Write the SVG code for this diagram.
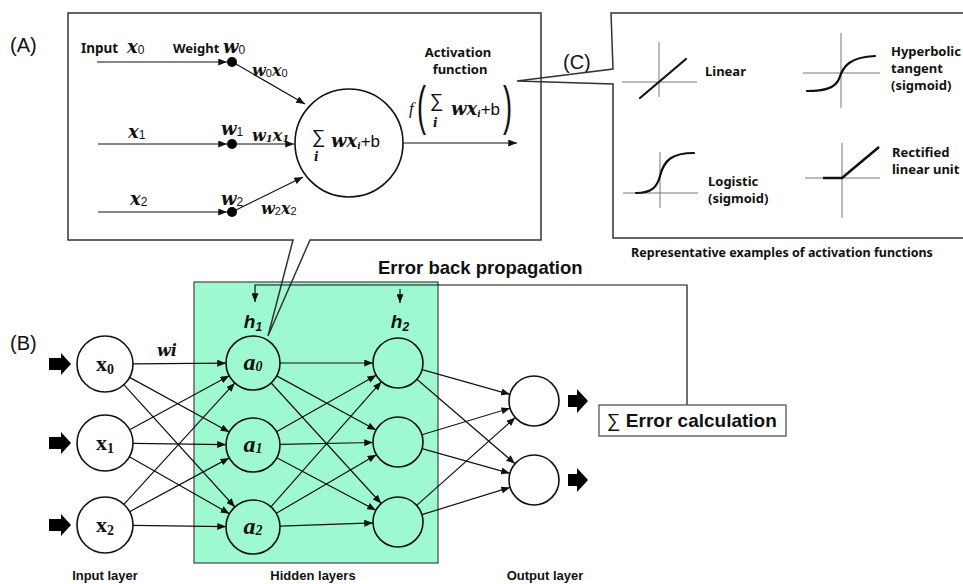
<svg xmlns="http://www.w3.org/2000/svg" width="963" height="584" viewBox="0 0 963 584">
  <style>
    .lbl { font-family: 'Liberation Sans', Arial, sans-serif; font-size: 20px; fill: #111; }
    .kb { font-family: 'Noto Sans', 'Liberation Sans', sans-serif; font-weight: bold; font-size: 13px; fill: #111; }
    .ab { font-family: 'Liberation Sans', Arial, sans-serif; font-weight: bold; fill: #111; }
    .sd { font-family: 'Liberation Sans', Arial, sans-serif; font-weight: normal; font-style: normal; }
    .m { font-family: 'Liberation Serif', serif; font-weight: bold; font-style: italic; font-size: 18px; fill: #111; }
    .v { font-family: 'DejaVu Serif', 'Liberation Serif', serif; font-weight: bold; font-style: italic; font-size: 18px; fill: #111; }
    .arr { stroke: #111; stroke-width: 1.2; fill: none; marker-end: url(#ah); }
    .box { stroke: #333; stroke-width: 1.5; fill: none; }
    .ax { stroke: #777; stroke-width: 1; fill: none; }
    .fn { stroke: #111; stroke-width: 2.2; fill: none; stroke-linecap: round; }
    .node { stroke: #111; stroke-width: 1.6; fill: #fff; }
    .hnode { stroke: #111; stroke-width: 1.6; fill: #9ef9d0; }
    .blk { fill: #000; }
  </style>
  <defs>
    <marker id="ah" viewBox="0 0 10 8" refX="10" refY="4" markerWidth="9" markerHeight="7" markerUnits="userSpaceOnUse" orient="auto">
      <path d="M0,0 L10,4 L0,8 Z" fill="#111"/>
    </marker>
  </defs>

  <rect width="963" height="584" fill="#fff"/>

  <!-- hidden layer panel -->
  <rect id="hidden-panel" x="194" y="282" width="244" height="281" fill="#9ef9d0" stroke="#444" stroke-width="1.2"/>

  <!-- panel labels -->
  <text class="lbl" x="10" y="52">(A)</text>
  <text class="lbl" x="10" y="350">(B)</text>
  <text class="lbl" x="563" y="69">(C)</text>

  <!-- (A) single neuron -->
  <g id="neuron-detail">
    <path class="box" d="M293,240 H68 V13 H541 V240 H310 L268,336 Z"/>
    <text class="kb" x="81" y="53" style="font-size:13.5px">Input</text>
    <text class="v" x="127" y="53">x<tspan class="sd" font-size="12" dy="1">0</tspan></text>
    <text class="kb" x="173" y="53">Weight</text>
    <text class="v" x="223" y="53">w<tspan class="sd" font-size="12" dy="1">0</tspan></text>

    <text class="v" x="128" y="138">x<tspan class="sd" font-size="12" dy="1">1</tspan></text>
    <text class="v" x="221" y="135">w<tspan class="sd" font-size="12" dy="1">1</tspan></text>
    <text class="v" x="130" y="205">x<tspan class="sd" font-size="12" dy="1">2</tspan></text>
    <text class="v" x="221" y="205">w<tspan class="sd" font-size="12" dy="1">2</tspan></text>

    <text class="v" x="252" y="76" style="font-size:16px">w<tspan class="sd" font-size="11" dy="1">0</tspan><tspan dy="-1">x</tspan><tspan class="sd" font-size="11" dy="1">0</tspan></text>
    <text class="v" x="252" y="141" style="font-size:16px">w<tspan font-size="10" dy="1">1</tspan><tspan dy="-1">x</tspan><tspan font-size="10" dy="1">1</tspan></text>
    <text class="v" x="261" y="214" style="font-size:16px">w<tspan class="sd" font-size="11" dy="1">2</tspan><tspan dy="-1">x</tspan><tspan class="sd" font-size="11" dy="1">2</tspan></text>

    <!-- input lines to weight dots -->
    <line class="arr" x1="97" y1="62" x2="227" y2="62"/>
    <line class="arr" x1="98" y1="144" x2="227" y2="144"/>
    <line class="arr" x1="98" y1="212" x2="227" y2="212"/>
    <circle cx="232" cy="62" r="5" fill="#000"/>
    <circle cx="232" cy="144" r="5" fill="#000"/>
    <circle cx="232" cy="212" r="5" fill="#000"/>
    <!-- weighted inputs into the summing unit -->
    <line class="arr" x1="236" y1="64" x2="305" y2="104"/>
    <line class="arr" x1="237" y1="144" x2="294" y2="144"/>
    <line class="arr" x1="236" y1="210" x2="303" y2="177"/>

    <circle cx="349" cy="143" r="54" fill="#fff" stroke="#111" stroke-width="1.6"/>
    <text class="sd" x="312" y="143" font-size="19" fill="#111">∑</text>
    <text class="v" x="314" y="161" style="font-size:12px">i</text>
    <text class="v" x="331" y="147">w<tspan>x</tspan><tspan font-size="9" dy="2">i</tspan><tspan class="sd" font-size="17" dy="-2">+b</tspan></text>

    <line class="arr" x1="403" y1="143" x2="517" y2="143"/>

    <text class="kb" x="458" y="57" text-anchor="middle">Activation</text>
    <text class="kb" x="460" y="74" text-anchor="middle">function</text>

    <text class="m" x="409" y="114" style="font-weight:normal;font-size:17px">f</text>
    <text class="sd" transform="translate(417,124) scale(0.85,1.7)" font-size="32" fill="#111">(</text>
    <text class="sd" x="430" y="107" font-size="19" fill="#111">∑</text>
    <text class="v" x="433" y="127" style="font-size:12px">i</text>
    <text class="v" x="451" y="115">w<tspan>x</tspan><tspan font-size="9" dy="2">i</tspan><tspan class="sd" font-size="17" dy="-2">+b</tspan></text>
    <text class="sd" transform="translate(503,124) scale(0.85,1.7)" font-size="32" fill="#111">)</text>
  </g>

  <!-- (C) activation functions -->
  <g id="activation-examples">
    <path class="box" d="M963,13 H611 L613,69 L517,81 L613,84 V238 H963"/>

    <g id="fn-linear">
      <line class="ax" x1="659" y1="42" x2="659" y2="97"/>
      <line class="ax" x1="622" y1="82" x2="697" y2="82"/>
      <line class="fn" x1="640" y1="98" x2="686" y2="59"/>
      <text class="kb" x="705" y="76">Linear</text>
    </g>

    <g id="fn-tanh">
      <line class="ax" x1="841" y1="33" x2="841" y2="108"/>
      <line class="ax" x1="803" y1="73" x2="880" y2="73"/>
      <path class="fn" d="M807,91 C825,91 835,88 839,79 C843,66 850,57 875,56"/>
      <text class="kb" x="891" y="56">Hyperbolic</text>
      <text class="kb" x="891" y="73">tangent</text>
      <text class="kb" x="891" y="90">(sigmoid)</text>
    </g>

    <g id="fn-logistic">
      <line class="ax" x1="660" y1="152" x2="660" y2="208"/>
      <line class="ax" x1="623" y1="193" x2="698" y2="193"/>
      <path class="fn" d="M636,193 C652,193 657,187 660,176 C664,160 672,153 694,153"/>
      <text class="kb" x="708" y="186">Logistic</text>
      <text class="kb" x="708" y="203">(sigmoid)</text>
    </g>

    <g id="fn-relu">
      <line class="ax" x1="842" y1="143" x2="842" y2="218"/>
      <line class="ax" x1="805" y1="178" x2="880" y2="178"/>
      <path class="fn" d="M823,178 H842 L879,147" style="stroke-width:2.6;stroke-linecap:butt"/>
      <text class="kb" x="892" y="157">Rectified</text>
      <text class="kb" x="892" y="174">linear unit</text>
    </g>

    <text class="kb" x="782" y="257" text-anchor="middle" style="font-size:12.5px">Representative examples of activation functions</text>
  </g>

  <!-- (B) network connectors -->
  <g id="connectors">
    <!-- input -> hidden 1 -->
    <line class="arr" x1="133" y1="363.8" x2="226" y2="363.2"/>
    <line class="arr" x1="129.6" y1="377.4" x2="229.3" y2="432"/>
    <line class="arr" x1="123.8" y1="384.7" x2="234.9" y2="507"/>
    <line class="arr" x1="129.6" y1="429.7" x2="229.2" y2="375.8"/>
    <line class="arr" x1="133" y1="443.4" x2="226" y2="444.6"/>
    <line class="arr" x1="129.4" y1="456.8" x2="229.5" y2="513.7"/>
    <line class="arr" x1="123.9" y1="504.3" x2="234.8" y2="382.9"/>
    <line class="arr" x1="129.6" y1="511.7" x2="229.2" y2="457.9"/>
    <line class="arr" x1="133" y1="525.4" x2="226" y2="526.6"/>
    <!-- hidden 1 -> hidden 2 -->
    <line class="arr" x1="280" y1="363" x2="373" y2="363"/>
    <line class="arr" x1="276.7" y1="375.9" x2="376" y2="430"/>
    <line class="arr" x1="271.2" y1="383" x2="381.2" y2="503.5"/>
    <line class="arr" x1="276.5" y1="431.7" x2="376.2" y2="375.3"/>
    <line class="arr" x1="280" y1="444.4" x2="373" y2="442.5"/>
    <line class="arr" x1="276.8" y1="457.7" x2="375.9" y2="510.3"/>
    <line class="arr" x1="270.9" y1="506.8" x2="381.4" y2="381.7"/>
    <line class="arr" x1="276.3" y1="513.3" x2="376.4" y2="454.7"/>
    <line class="arr" x1="280" y1="526.1" x2="373" y2="522.9"/>
    <!-- hidden 2 -> output -->
    <line class="arr" x1="422.1" y1="369.7" x2="509.9" y2="394.3"/>
    <line class="arr" x1="416.9" y1="379.3" x2="515" y2="463.7"/>
    <line class="arr" x1="421.9" y1="434.8" x2="510.1" y2="408.2"/>
    <line class="arr" x1="422.1" y1="448.7" x2="509.9" y2="473.3"/>
    <line class="arr" x1="416.7" y1="505.4" x2="515.3" y2="417.6"/>
    <line class="arr" x1="421.9" y1="514.6" x2="510.1" y2="487.4"/>
    <!-- error feedback -->
    <path class="arr" d="M687,405 V285 H255 V302"/>
    <line class="arr" x1="400" y1="289" x2="400" y2="303"/>
    <!-- block arrows for inputs and outputs -->
    <path class="blk" d="M49,358 H61 V353 L71,364 L61,375 V370 H49 Z"/>
    <path class="blk" d="M49,437 H61 V432 L71,443 L61,454 V449 H49 Z"/>
    <path class="blk" d="M49,519 H61 V514 L71,525 L61,536 V531 H49 Z"/>
    <path class="blk" d="M568,395 H577 V389 L588,401 L577,413 V407 H568 Z"/>
    <path class="blk" d="M568,474 H577 V468 L588,480 L577,492 V486 H568 Z"/>
  </g>

  <text class="v" x="157" y="356" style="font-size:16px">wi</text>
  <text class="ab" x="378" y="274" font-size="18.5">Error back propagation</text>

  <!-- input layer -->
  <g id="in0"><circle class="node" cx="105" cy="364" r="28"/><text x="105" y="371" text-anchor="middle" font-family="'Liberation Serif', serif" font-weight="bold" font-size="22" fill="#111">x<tspan font-size="14" dy="3">0</tspan></text></g>
  <g id="in1"><circle class="node" cx="105" cy="443" r="28"/><text x="105" y="450" text-anchor="middle" font-family="'Liberation Serif', serif" font-weight="bold" font-size="22" fill="#111">x<tspan font-size="14" dy="3">1</tspan></text></g>
  <g id="in2"><circle class="node" cx="105" cy="525" r="28"/><text x="105" y="532" text-anchor="middle" font-family="'Liberation Serif', serif" font-weight="bold" font-size="22" fill="#111">x<tspan font-size="14" dy="3">2</tspan></text></g>

  <!-- hidden layer 1 -->
  <text class="ab" x="253" y="328" text-anchor="middle" font-size="19" font-style="italic">h<tspan font-size="12" dy="3">1</tspan></text>
  <g id="h1a0"><circle class="hnode" cx="253" cy="363" r="27"/><text class="m" x="253" y="370" text-anchor="middle" style="font-size:24px">a<tspan font-size="14" dy="1">0</tspan></text></g>
  <g id="h1a1"><circle class="hnode" cx="253" cy="445" r="27"/><text class="m" x="253" y="452" text-anchor="middle" style="font-size:24px">a<tspan font-size="14" dy="1">1</tspan></text></g>
  <g id="h1a2"><circle class="hnode" cx="253" cy="527" r="27"/><text class="m" x="253" y="534" text-anchor="middle" style="font-size:24px">a<tspan font-size="14" dy="1">2</tspan></text></g>

  <!-- hidden layer 2 -->
  <text class="ab" x="400" y="328" text-anchor="middle" font-size="19" font-style="italic">h<tspan font-size="12" dy="3">2</tspan></text>
  <g id="h2n0"><circle class="hnode" cx="398" cy="363" r="25"/></g>
  <g id="h2n1"><circle class="hnode" cx="398" cy="442" r="25"/></g>
  <g id="h2n2"><circle class="hnode" cx="398" cy="522" r="25"/></g>

  <!-- output layer -->
  <g id="out0"><circle class="node" cx="534" cy="401" r="25"/></g>
  <g id="out1"><circle class="node" cx="534" cy="480" r="25"/></g>

  <!-- error calculation -->
  <g id="error-calc">
    <rect x="599" y="405" width="187" height="31" fill="#fff" stroke="#555" stroke-width="1.3"/>
    <text class="ab" x="607" y="427" font-size="19"><tspan font-weight="normal">∑</tspan> Error calculation</text>
  </g>

  <!-- layer captions -->
  <text class="ab" x="105" y="580" text-anchor="middle" font-size="13">Input layer</text>
  <text class="ab" x="313" y="580" text-anchor="middle" font-size="13">Hidden layers</text>
  <text class="ab" x="545" y="580" text-anchor="middle" font-size="13">Output layer</text>
</svg>
